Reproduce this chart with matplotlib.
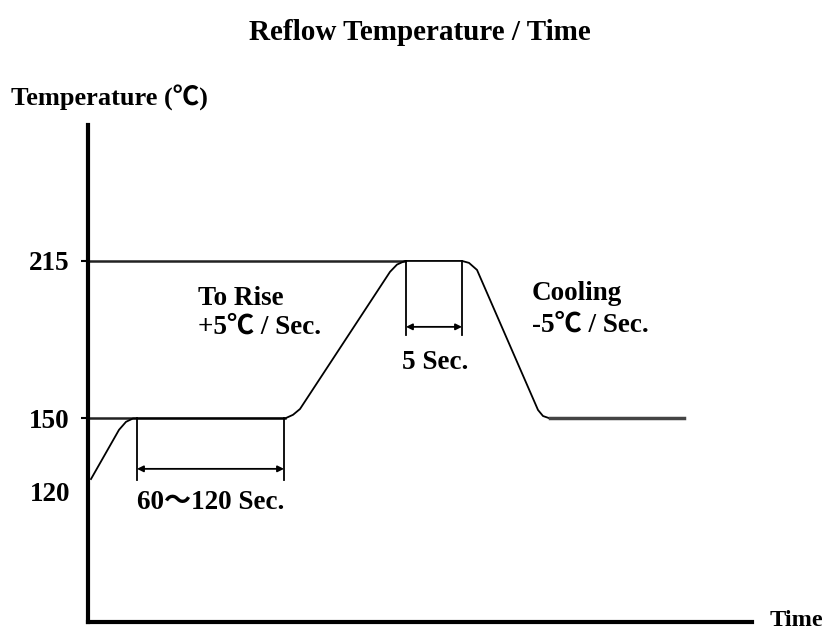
import matplotlib.pyplot as plt

plt.rcParams['font.family'] = ['Liberation Serif', 'Noto Sans CJK SC', 'DejaVu Sans']
plt.rcParams['font.weight'] = 'bold'

# reflow profile, time in arbitrary units along the axis, temperature in C
profile_time = [3, 31, 38, 45, 197, 205, 212, 302, 309, 317, 374, 381, 389, 450, 455, 462, 596]
profile_temp = [125, 145.3, 148.6, 150, 150, 151.5, 153.9, 210.5, 213.5, 215, 215, 214.2, 211.3, 153.5, 151, 150, 150]

tick_values = [120, 150, 215]
tick_labels = ["120", "150", "215"]

soak_start, soak_end = 49, 196
peak_start, peak_end = 318, 374

fig = plt.figure(figsize=(8.27, 6.3), dpi=100)
ax = fig.add_axes([88 / 827, 8 / 630, (827 - 88) / 827, (622 - 125) / 630])
ax.set_xlim(0, 739)
ax.set_ylim(66, 271.1)

for side in ["top", "right"]:
    ax.spines[side].set_visible(False)
ax.spines["left"].set_linewidth(3)
ax.spines["bottom"].set_linewidth(3)
ax.spines["bottom"].set_bounds(0, 664)
ax.set_xticks([])
ax.set_yticks(tick_values)
ax.set_yticklabels(tick_labels, fontsize=19.5, fontweight="bold")
ax.tick_params(axis="y", length=5, width=1.5, pad=8)
ax.yaxis.get_major_ticks()[0].tick1line.set_visible(False)

# reference levels
ax.plot([0, 317], [215, 215], color="#222222", lw=1.8)
ax.plot([0, 197], [150, 150], color="#222222", lw=1.8)

ax.plot(profile_time, profile_temp, color="black", lw=1.3)
ax.plot([462, 596], [150, 150], color="#444444", lw=2.5)

# dimension lines
for x in (soak_start, soak_end):
    ax.plot([x, x], [150, 124.6], color="black", lw=1.3)
for x in (peak_start, peak_end):
    ax.plot([x, x], [215, 184.5], color="black", lw=1.3)

arrow = dict(arrowstyle="<|-|>", color="black", lw=1.3, mutation_scale=9, shrinkA=0, shrinkB=0)
ax.annotate("", xy=(soak_start, 129.2), xytext=(soak_end, 129.2), arrowprops=arrow)
ax.annotate("", xy=(peak_start, 187.8), xytext=(peak_end, 187.8), arrowprops=arrow)

ax.text((soak_start + soak_end) / 2, 115.5, "60\uff5e120 Sec.", fontsize=19.5, ha="center", va="center")
ax.text((peak_start + peak_end) / 2 + 1, 173, "5 Sec.", fontsize=19.5, ha="center", va="center")
ax.text(110, 199.6, "To Rise", fontsize=19.5, ha="left", va="center")
ax.text(110, 187.5, "+5\u2103 / Sec.", fontsize=19.5, ha="left", va="center")
ax.text(444, 201.6, "Cooling", fontsize=19.5, ha="left", va="center")
ax.text(444, 188.7, "-5\u2103 / Sec.", fontsize=19.5, ha="left", va="center")

fig.text(420 / 827, 1 - 32 / 630, "Reflow Temperature / Time", fontsize=21, ha="center", va="center")
fig.text(11 / 827, 1 - 98 / 630, "Temperature (\u2103)", fontsize=19, ha="left", va="center")
fig.text(770 / 827, 1 - 620 / 630, "Time", fontsize=17.5, ha="left", va="center")

fig.savefig("out.png", dpi=100)
